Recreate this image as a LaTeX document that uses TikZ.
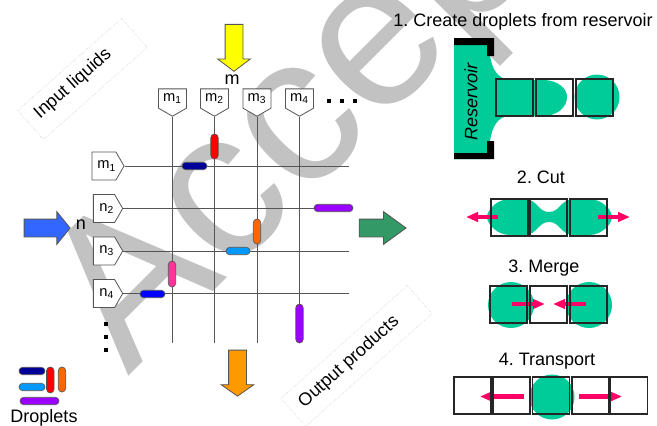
\documentclass[tikz,border=0pt]{standalone}
\usepackage{fontspec}
\setmainfont{Liberation Sans}
\usetikzlibrary{shapes.symbols,shapes.misc,shapes.arrows,arrows.meta}
\definecolor{wm}{HTML}{C2C2C2}
\definecolor{dgreen}{HTML}{00CC99}
\definecolor{pinkarrow}{HTML}{FF0066}
\definecolor{edgegray}{HTML}{555555}
\frenchspacing
\tikzset{
  x=0.75pt,y=-0.75pt,
  lab/.style={font=\fontsize{13.5pt}{15pt}\selectfont,inner sep=0pt},
  tagtext/.style={font=\fontsize{11pt}{12pt}\selectfont},
  tagright/.style={signal,signal to=east,signal from=nowhere,signal pointer angle=120,draw=edgegray,line width=0.6pt,fill=white,minimum width=22pt,minimum height=21pt,inner sep=0pt,tagtext},
  tagdown/.style={signal,signal to=south,signal from=nowhere,signal pointer angle=120,draw=edgegray,line width=0.6pt,fill=white,minimum width=21pt,minimum height=18.5pt,inner sep=0pt,tagtext},
  gridline/.style={draw=edgegray,line width=0.7pt},
  drop/.style={rounded rectangle,draw=edgegray,line width=0.5pt,inner sep=0pt,minimum height=5.6pt,minimum width=#1*0.75pt},
  bigarrow/.style={single arrow,draw=edgegray,line width=0.6pt,inner sep=0pt,single arrow head indent=0pt,single arrow head extend=5.6pt},
  sq/.style={draw=black!85,line width=1.1pt,fill=none,minimum size=27.5pt,inner sep=0pt},
  pinkline/.style={draw=pinkarrow,line width=3.3pt,-{Triangle[length=9pt,width=7pt]}},
  dotsq/.style={fill=black,minimum size=3pt,inner sep=0pt},
  rotbox/.style={draw=gray!55,densely dotted,line width=0.35pt,inner sep=0pt},
  blob/.style={fill=dgreen,draw=none}
}
\newcommand{\shaft}{\rule{0pt}{12.75pt}}
\begin{document}
\begin{tikzpicture}
\useasboundingbox (0,0) rectangle (657,425);
\clip (0,0) rectangle (657,425);
% watermark
\node[rotate=45,anchor=base west,inner sep=0pt,text=wm,font=\fontsize{158pt}{158pt}\selectfont] (wmark) at (128,377) {Accepted};

% dotted boxes
\node[rotbox,rotate=41.5,minimum width=104pt,minimum height=29pt] (inbox) at (82.5,79) {};
\node[lab,rotate=41.5] (intext) at (73,84) {Input liquids};
\node[rotbox,rotate=41.8,minimum width=127pt,minimum height=28pt] (outbox) at (356.5,356) {};
\node[lab,rotate=41.8] (outtext) at (349,362) {Output products};

% tags
\node[tagdown] (tm1) at (172.5,98.5) {m$_{\mathrm{1}}$};
\node[tagdown] (tm2) at (214.5,98.5) {m$_{\mathrm{2}}$};
\node[tagdown] (tm3) at (257,98.5) {m$_{\mathrm{3}}$};
\node[tagdown] (tm4) at (299.5,98.5) {m$_{\mathrm{4}}$};
\node[tagright] (lm1) at (104,166) {\hspace*{4pt}m$_{\mathrm{1}}$};
\node[tagright] (ln2) at (104,208.5) {\hspace*{4pt}n$_{\mathrm{2}}$};
\node[tagright] (ln3) at (104,251) {\hspace*{4pt}n$_{\mathrm{3}}$};
\node[tagright] (ln4) at (104,293.5) {\hspace*{4pt}n$_{\mathrm{4}}$};

% free ends
\coordinate (eb1) at (172.5,343);
\coordinate (eb2) at (214.5,343);
\coordinate (eb3) at (257,343);
\coordinate (eb4) at (299.5,343);
\coordinate (er1) at (349,166);
\coordinate (er2) at (349,208.5);
\coordinate (er3) at (349,251);
\coordinate (er4) at (349,293.5);

% grid
\draw[gridline] (tm1.south) -- (eb1);
\draw[gridline] (tm2.south) -- (eb2);
\draw[gridline] (tm3.south) -- (eb3);
\draw[gridline] (tm4.south) -- (eb4);
\draw[gridline] (lm1.east) -- (er1);
\draw[gridline] (ln2.east) -- (er2);
\draw[gridline] (ln3.east) -- (er3);
\draw[gridline] (ln4.east) -- (er4);

% droplets on grid
\node[drop=25,fill=red,rotate=90] (d1) at (214.5,146.5) {};
\node[drop=25,fill={rgb,255:red,0;green,0;blue,153}] (d2) at (194.5,166) {};
\node[drop=39,fill={rgb,255:red,153;green,0;blue,255}] (d3) at (333.5,208) {};
\node[drop=25,fill={rgb,255:red,255;green,102;blue,0},rotate=90] (d4) at (257,231.5) {};
\node[drop=24,fill={rgb,255:red,0;green,153;blue,255}] (d5) at (238,251) {};
\node[drop=26,fill={rgb,255:red,255;green,51;blue,153},rotate=90] (d6) at (172,274) {};
\node[drop=25,fill=blue] (d7) at (152.5,294) {};
\node[drop=39,fill={rgb,255:red,153;green,0;blue,255},rotate=90] (d8) at (299.5,323.5) {};

% big arrows
\node[bigarrow,fill={rgb,255:red,255;green,255;blue,0},minimum height=35.2pt,single arrow tip angle=106,rotate=-90] (ay) at (234,44.5) {\shaft};
\node[lab] (lm) at (232,80) {m};
\node[bigarrow,fill={rgb,255:red,51;green,102;blue,255},minimum height=34.5pt,single arrow tip angle=102] (ab) at (43.5,228) {\shaft};
\node[lab] (ln) at (81,225) {n};
\node[bigarrow,fill={rgb,255:red,51;green,153;blue,102},minimum height=35.2pt,single arrow tip angle=72] (ag) at (376.5,228) {\shaft};
\node[bigarrow,fill={rgb,255:red,255;green,153;blue,0},minimum height=34.5pt,single arrow tip angle=110,rotate=-90] (ao) at (237.5,370) {\shaft};

% dots
\node[dotsq] (t1) at (329,101) {};
\node[dotsq] (t2) at (341.5,101) {};
\node[dotsq] (t3) at (355,101) {};
\node[dotsq] (s1) at (106,324) {};
\node[dotsq] (s2) at (106,337) {};
\node[dotsq] (s3) at (106,350) {};

% legend
\node[drop=26,fill={rgb,255:red,0;green,0;blue,153}] (g1) at (32,371) {};
\node[drop=26,fill=red,rotate=90] (g2) at (50.3,380) {};
\node[drop=25,fill={rgb,255:red,255;green,102;blue,0},rotate=90] (g3) at (62,379.5) {};
\node[drop=26,fill={rgb,255:red,0;green,153;blue,255}] (g4) at (32,387) {};
\node[drop=39,fill={rgb,255:red,153;green,0;blue,255}] (g5) at (39.5,401) {};
\node[lab] (gt) at (44,418) {Droplets};

% panel 1
\node[lab] (h1) at (523,22) {1. Create droplets from reservoir};
\path[blob] (454,38) -- (490,38) -- (490,56) .. controls (492,68) and (497,79) .. (510,80) -- (545,80) .. controls (558,81) and (567,88) .. (567,97) .. controls (567,107) and (558,115) .. (545,116) -- (510,116) .. controls (497,116) and (492,128) .. (490,141) -- (490,159) -- (454,159) -- cycle;
\fill[black] (454,38) -- (494,38) -- (494,56) -- (487,56) -- (487,45) -- (454,45) -- cycle;
\fill[black] (454,159) -- (494,159) -- (494,141) -- (487,141) -- (487,153) -- (454,153) -- cycle;
\node[lab,rotate=90,font=\fontsize{13.5pt}{15pt}\selectfont\itshape] (res) at (471,102) {Reservoir};
\fill[dgreen] (597,97) circle (22.5);
\node[sq] (a1) at (514.5,97.5) {};
\node[sq] (a2) at (554.5,97.5) {};
\node[sq] (a3) at (594.5,97.5) {};

% panel 2
\node[lab] (h2) at (541,177) {2. Cut};
\path[blob] (487,217) .. controls (487,210) and (497,199) .. (510,199) -- (525,199) .. controls (538,200) and (538,212) .. (549,212) .. controls (560,212) and (560,200) .. (573,199) -- (589,199) .. controls (602,199) and (612,210) .. (612,217) .. controls (612,224) and (602,235) .. (589,235) -- (573,235) .. controls (560,234) and (560,222) .. (549,222) .. controls (538,222) and (538,234) .. (525,235) -- (510,235) .. controls (497,235) and (487,224) .. (487,217) -- cycle;
\coordinate (c1s) at (498,217); \coordinate (c1e) at (466,217);
\coordinate (c2s) at (598,217); \coordinate (c2e) at (630,217);
\draw[pinkline] (c1s) -- (c1e);
\draw[pinkline] (c2s) -- (c2e);
\node[sq] (b1) at (509.5,217.5) {};
\node[sq] (b2) at (548.5,217.5) {};
\node[sq] (b3) at (588.5,217.5) {};

% panel 3
\node[lab] (h3) at (544,268) {3. Merge};
\fill[dgreen] (511,305) circle (23);
\fill[dgreen] (589,305) circle (23);
\coordinate (m1s) at (512,304); \coordinate (m1e) at (545,304);
\coordinate (m2s) at (586,304); \coordinate (m2e) at (553,304);
\draw[pinkline] (m1s) -- (m1e);
\draw[pinkline] (m2s) -- (m2e);
\node[sq] (c1) at (508.5,304.5) {};
\node[sq] (c2) at (548.5,304.5) {};
\node[sq] (c3) at (588.5,304.5) {};

% panel 4
\node[lab] (h4) at (547,361) {4. Transport};
\fill[dgreen] (552,397) circle (22.5);
\coordinate (t1s) at (524,396.5); \coordinate (t1e) at (480,396.5);
\coordinate (t2s) at (579,396.5); \coordinate (t2e) at (622,396.5);
\draw[pinkline] (t1s) -- (t1e);
\draw[pinkline] (t2s) -- (t2e);
\node[sq] (e1) at (472.5,395.5) {};
\node[sq] (e2) at (511.5,395.5) {};
\node[sq] (e3) at (551,395.5) {};
\node[sq] (e4) at (590.5,395.5) {};
\node[sq] (e5) at (629,395.5) {};
\end{tikzpicture}
\end{document}
